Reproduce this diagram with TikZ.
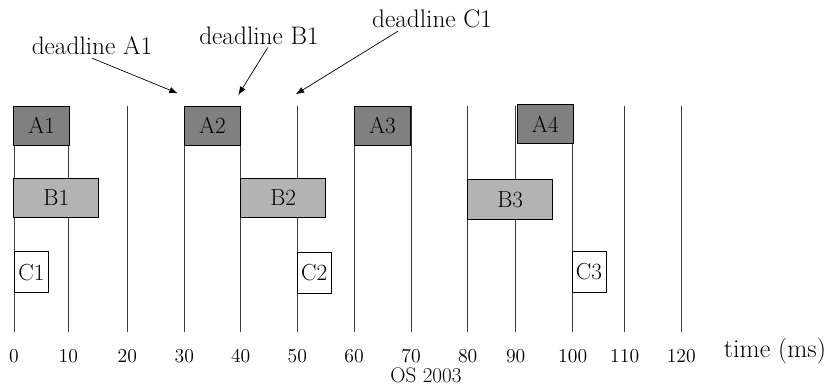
\documentclass[tikz,border=0pt]{standalone}
\usepackage{fontspec}
\usepackage{tikz}
\usetikzlibrary{arrows.meta, positioning}
\definecolor{taskdark}{RGB}{128,128,128}
\definecolor{tasklight}{RGB}{179,179,179}
\definecolor{gridline}{RGB}{60,60,60}

\begin{document}
\begin{tikzpicture}[x=0.025cm, y=-0.025cm,
    slot/.style={draw=black, line width=0.6pt, inner sep=0pt, font=\fontsize{16.5}{19}\selectfont},
    slotA/.style={slot, fill=taskdark, minimum width=1.41cm, minimum height=0.975cm},
    slotB/.style={slot, fill=tasklight, minimum width=2.125cm, minimum height=0.99cm},
    slotC/.style={slot, fill=white, minimum width=0.85cm, minimum height=1.025cm},
    ticklabel/.style={font=\fontsize{14}{16}\selectfont},
    deadline/.style={font=\fontsize{18}{21}\selectfont, inner sep=2pt},
    pointer/.style={-{Latex[length=6pt,width=4.5pt]}, line width=0.5pt}]
  \useasboundingbox (0,0) rectangle (829,389);

  % Period boundaries and time axis
  \foreach \t/\x in {0/14, 10/68.3, 20/127.3, 30/184.3, 40/240.7, 50/297.3, 60/354,
                     70/411, 80/467.7, 90/515.7, 100/572.7, 110/624.7, 120/681.3} {
    \draw[gridline, line width=0.6pt] (\x,106) -- (\x,332);
    \node[ticklabel] (t\t) at (\x,356) {\t};
  }
  \node[font=\fontsize{18.5}{21}\selectfont] (axis) at (775,351) {time (ms)};
  \node[font=\fontsize{15}{17}\selectfont] (year) at (426,375) {OS 2003};

  % Task A
  \node[slotA] (a1) at (41.7,125.7) {A1};
  \node[slotA] (a2) at (212.5,125.7) {A2};
  \node[slotA] (a3) at (382.5,125.7) {A3};
  \node[slotA] (a4) at (545.3,124.3) {A4};

  % Task B
  \node[slotB] (b1) at (56.3,198) {B1};
  \node[slotB] (b2) at (283.2,198) {B2};
  \node[slotB] (b3) at (510.2,199.3) {B3};

  % Task C
  \node[slotC] (c1) at (31.5,272.2) {C1};
  \node[slotC] (c2) at (314.2,272.8) {C2};
  \node[slotC] (c3) at (589,271.7) {C3};

  % Deadlines
  \node[deadline] (dla) at (92,46) {deadline A1};
  \node[deadline] (dlb) at (259,35.5) {deadline B1};
  \node[deadline] (dlc) at (432,19) {deadline C1};
  \coordinate (ea) at (177.7,93.3);
  \coordinate (eb) at (238.3,95);
  \coordinate (ec) at (295.7,94.3);
  \draw[pointer] (dla.south) -- (ea);
  \draw[pointer] ([xshift=0.22cm]dlb.south) -- (eb);
  \draw[pointer] ([xshift=-0.85cm]dlc.south) -- (ec);
\end{tikzpicture}
\end{document}
